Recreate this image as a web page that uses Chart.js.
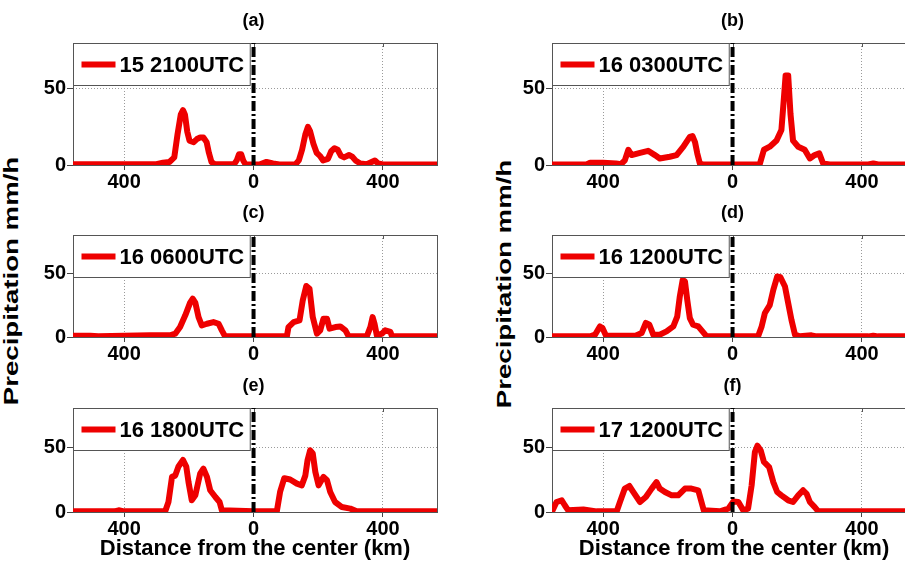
<!DOCTYPE html>
<html>
<head>
<meta charset="utf-8">
<script src="https://cdn.jsdelivr.net/npm/chart.js@4.4.1/dist/chart.umd.min.js"></script>
<style>
  html, body { margin: 0; padding: 0; background: #fff; width: 905px; height: 562px; overflow: hidden; position: relative; }
  canvas { position: absolute; }
  .ylab {
    position: absolute;
    font: bold 20px "Liberation Sans", Arial, sans-serif;
    color: #000;
    white-space: nowrap;
    transform: translate(-50%, -50%) rotate(-90deg) scaleX(1.38);
  }
</style>
</head>
<body>
<div class="ylab" style="left:11px; top:281px">Precipitation mm/h</div>
<div class="ylab" style="left:504px; top:284px">Precipitation mm/h</div>
<script>
// данные (км от центра, мм/ч)
const distA = [-558,-300,-280,-260,-245,-235,-225,-218,-212,-205,-198,-185,-175,-165,-155,-145,-138,-130,-120,-60,-52,-45,-38,-32,-25,0,20,40,60,80,130,140,150,160,168,175,185,195,205,215,230,240,250,260,270,280,295,305,315,330,350,365,375,385,400,567];
const rainA = [0.5,0.5,1.5,2,5,20,33,36,33,22,16,15,17,18,18,15,8,2,0.5,0.5,3,7,7,3,0.5,0.3,0.5,2,1,0.3,0.5,3,10,20,25,22,14,8,6,3,4,9,11,10,6,5,6.5,5.5,3,1,0.5,2,3,1,0.3,0.3];

const distB = [-558,-450,-440,-400,-360,-345,-333,-322,-312,-286,-261,-240,-225,-194,-173,-152,-132,-124,-116,-109,-101,-90,0,84,97,115,136,151,159,164,172,179,187,203,223,239,254,268,280,300,420,435,450,567];
const rainB = [0.3,0.5,1.5,1.5,1,0.5,3,10,6.5,8,9.3,6.5,4.3,5.4,6.5,12,18.5,19,15,7.6,1,0.3,0.3,0.5,10,12,16,23,44.6,58.7,58.7,33.7,16,12,10,4.3,6.5,7.6,1,0.3,0.3,1,0.3,0.3];

const distC = [-558,-505,-480,-320,-258,-242,-227,-211,-196,-188,-180,-170,-160,-144,-124,-108,-98,-88,0,103,108,124,142,152,163,173,183,196,206,216,227,235,253,268,284,294,350,361,368,374,381,397,407,423,428,567];
const rainC = [1,1,0.5,1.3,1.3,2.6,7.8,17,27,30,27,15.6,9,10.4,11.7,10.4,5.2,0.5,0.5,0.5,7.8,11.7,13,28.6,40,37.8,15.6,2.6,5.2,14.3,14.3,6.5,7.8,8.3,5.2,0.5,0.5,7.8,15.6,10.4,1.3,2.6,5.2,4,0.5,0.5];

const distD = [-558,-440,-425,-410,-402,-391,-300,-281,-268,-257,-245,-225,-204,-183,-171,-163,-154,-147,-140,-132,-122,-106,-93,-80,0,79,90,100,115,126,138,148,162,172,182,193,208,244,260,420,435,450,567];
const rainD = [0.5,0.5,1.8,8.3,7,1,1,3.1,11,9.6,1.8,1.8,4.4,8.3,16,31.8,44.8,43.5,29.2,14.8,9.6,8.3,4.4,0.5,0.5,0.5,8.3,18.8,25,37,47.4,46.9,39.6,26.6,13.5,1.8,0.5,1.3,0.5,0.5,1,0.5,0.5];

const distE = [-558,-430,-417,-400,-273,-263,-252,-242,-232,-218,-208,-201,-191,-180,-165,-155,-144,-134,-118,-105,-98,0,72,82,95,113,134,149,160,167,175,183,191,201,216,227,237,252,273,299,319,567];
const rainE = [0.5,0.5,1.3,0.5,0.5,7.7,27,28,35,40,35,23,9,12.8,29.5,33.3,27,16.7,11.5,7.7,1.3,0.5,0.5,15.4,26,25,21.8,20.5,28,40,47.4,45,30.8,20.5,27,24.4,15.4,7.7,3.8,2.6,0.5,0.5];

const distF = [-556,-544,-528,-518,-508,-461,-420,-358,-348,-333,-319,-307,-286,-268,-250,-235,-225,-209,-188,-168,-147,-127,-106,-96,-89,-39,-13,2,18,33,48,59,69,77,87,97,113,126,138,151,172,187,203,218,229,239,254,265,567];
const rainF = [1.3,7.7,9,5,1.3,2,0.5,0.5,7.7,18,20,15.4,7.7,11.5,18,23,18,15.4,12.8,12.8,18,18,16.7,7.7,1.3,0.5,2.6,8,7.7,1.3,2.6,20.5,46,51,47.4,38.5,34.6,23,15.4,12.8,9,7.7,12.8,16.7,14,7.7,3.8,0.5,0.5];

const times = ['15 2100UTC', '16 0300UTC', '16 0600UTC', '16 1200UTC', '16 1800UTC', '17 1200UTC'];
const titles = ['(a)', '(b)', '(c)', '(d)', '(e)', '(f)'];
const xTicks = [-400, 0, 400];
const yTicks = [0, 50];
const xMin = -558, xMax = 567, yMax = 80;
const xTitle = 'Distance from the center (km)';

const series = [[distA, rainA], [distB, rainB], [distC, rainC], [distD, rainD], [distE, rainE], [distF, rainF]];

// раскладка панелей
const FONT = '"Liberation Sans", Arial, sans-serif';
const areaLeft = [73, 552];
const areaTop = [43, 235, 408];
const areaBottom = [165, 337, 512];
const padTop = [43, 45, 38];
const padBottom = [35, 35, 50];
const padL = 72, padR = 10, areaW = 364;

const framePlugin = {
    id: 'frame',
    beforeDatasetsDraw(chart) {
        const a = chart.chartArea, ctx = chart.ctx;
        ctx.save();
        ctx.strokeStyle = '#555';
        ctx.lineWidth = 1;
        ctx.strokeRect(Math.round(a.left) + 0.5, Math.round(a.top) + 0.5, Math.round(a.width), Math.round(a.height));
        // короткие засечки сверху, как в MATLAB
        const x = chart.scales.x;
        ctx.beginPath();
        xTicks.forEach(v => {
            const px = Math.round(x.getPixelForValue(v)) + 0.5;
            ctx.moveTo(px, a.top);
            ctx.lineTo(px, a.top + 4);
        });
        ctx.stroke();
        ctx.restore();
    }
};

const decorPlugin = {
    id: 'decor',
    afterDatasetsDraw(chart, args, opts) {
        const a = chart.chartArea, ctx = chart.ctx;
        ctx.save();
        // легенда
        ctx.font = 'bold 22px ' + FONT;
        const tw = ctx.measureText(opts.label).width;
        const bw = 46 + tw + 6, bh = 42;
        const bx = Math.round(a.left) + 0.5, by = Math.round(a.top) + 0.5;
        ctx.fillStyle = '#fff';
        ctx.fillRect(bx, by, bw, bh);
        ctx.strokeStyle = '#555';
        ctx.lineWidth = 1;
        ctx.strokeRect(bx, by, bw, bh);
        ctx.strokeStyle = '#ee0000';
        ctx.lineWidth = 6;
        ctx.beginPath();
        ctx.moveTo(bx + 8, by + 21);
        ctx.lineTo(bx + 42, by + 21);
        ctx.stroke();
        ctx.fillStyle = '#000';
        ctx.textBaseline = 'middle';
        ctx.textAlign = 'left';
        ctx.fillText(opts.label, bx + 46, by + 22);
        // заголовок панели
        ctx.font = 'bold 18px ' + FONT;
        ctx.textAlign = 'center';
        ctx.fillText(opts.title, chart.scales.x.getPixelForValue(0), a.top - 22);
        ctx.restore();
    }
};

series.forEach(function(s, i) {
    const col = i % 2, row = Math.floor(i / 2);
    const pt = padTop[row], pb = padBottom[row];
    const h = areaBottom[row] - areaTop[row];
    const canvas = document.createElement('canvas');
    canvas.width = padL + areaW + padR;
    canvas.height = pt + h + pb;
    canvas.style.left = (areaLeft[col] - padL) + 'px';
    canvas.style.top = (areaTop[row] - pt) + 'px';
    document.body.appendChild(canvas);

    const points = s[0].map((d, k) => ({ x: d, y: s[1][k] }));
    const tickFont = { family: FONT, size: 20, weight: 'bold' };
    const hideZero = c => (c.tick && c.tick.value === 0) ? 'rgba(0,0,0,0)' : '#9a9a9a';

    new Chart(canvas.getContext('2d'), {
        type: 'line',
        data: {
            datasets: [
                {
                    label: 'center',
                    data: [{ x: 0, y: 0 }, { x: 0, y: yMax }],
                    borderColor: '#000',
                    borderWidth: 4,
                    borderDash: [10, 3, 2, 3],
                    pointRadius: 0
                },
                {
                    label: times[i],
                    data: points,
                    borderColor: '#ee0000',
                    borderWidth: 6,
                    pointRadius: 0,
                    tension: 0,
                    borderJoinStyle: 'round',
                    borderCapStyle: 'round'
                }
            ]
        },
        options: {
            responsive: false,
            animation: false,
            events: [],
            layout: { padding: { top: pt, right: padR, left: 0, bottom: 0 } },
            plugins: {
                legend: { display: false },
                tooltip: { enabled: false },
                decor: { label: times[i], title: titles[i] }
            },
            scales: {
                x: {
                    type: 'linear',
                    min: xMin,
                    max: xMax,
                    afterFit: sc => { sc.height = pb; },
                    afterBuildTicks: sc => { sc.ticks = xTicks.map(v => ({ value: v })); },
                    ticks: {
                        font: tickFont,
                        color: '#000',
                        padding: 0,
                        maxRotation: 0,
                        callback: v => String(Math.abs(v))
                    },
                    grid: { color: hideZero, tickColor: '#444', tickLength: 5, lineWidth: 1, tickBorderDash: [] },
                    border: { display: false, dash: [1, 2] },
                    title: {
                        display: row === 2,
                        text: xTitle,
                        color: '#000',
                        font: { family: FONT, size: 22, weight: 'bold' },
                        padding: 0
                    }
                },
                y: {
                    min: 0,
                    max: yMax,
                    afterFit: sc => { sc.width = padL; },
                    afterBuildTicks: sc => { sc.ticks = yTicks.map(v => ({ value: v })); },
                    ticks: { font: tickFont, color: '#000', padding: 1 },
                    grid: { color: hideZero, tickColor: '#444', tickLength: 6, lineWidth: 1, tickBorderDash: [] },
                    border: { display: false, dash: [1, 2] }
                }
            }
        },
        plugins: [framePlugin, decorPlugin]
    });
});
</script>
</body>
</html>
